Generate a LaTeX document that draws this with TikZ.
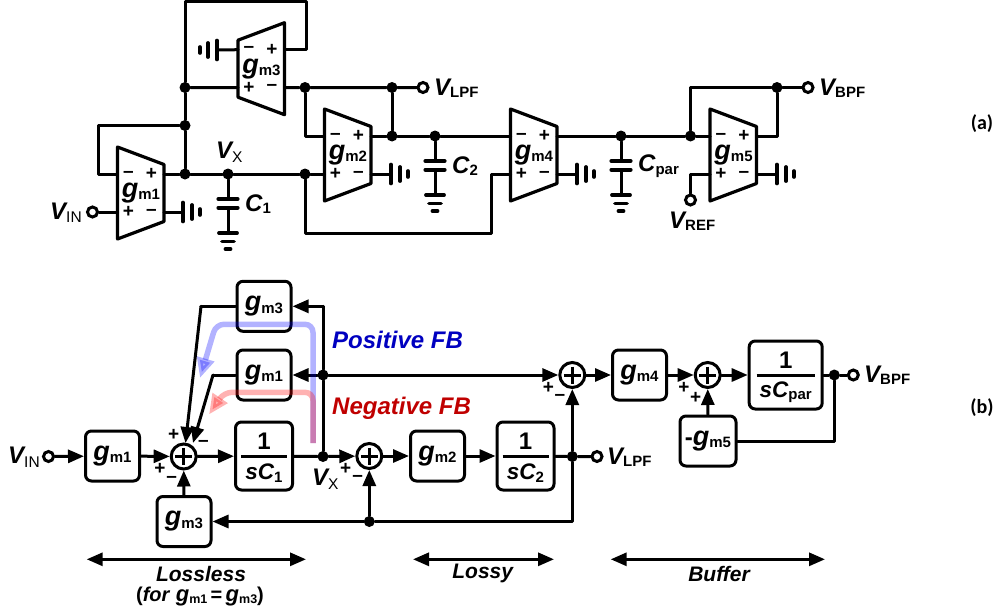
\documentclass[tikz,border=0pt]{standalone}
\usepackage{fontspec}
\setmainfont{Liberation Sans}
\newfontfamily\lblfont{Carlito}
\usetikzlibrary{arrows.meta,calc}
\definecolor{posblue}{RGB}{0,0,192}
\definecolor{negred}{RGB}{192,0,0}
\newcommand{\fs}[1]{\fontsize{#1}{#1}\selectfont}
\newcommand{\SymG}[1]{{\fs{27}\bfseries\itshape g}\raisebox{-2.5pt}{\fs{15}\bfseries #1}}
\newcommand{\SymI}[2]{{\fs{24}\bfseries\itshape #1}\raisebox{-2.5pt}{\fs{15}\bfseries #2}}
\newcommand{\SymC}[2]{{\fs{22.5}\bfseries\itshape #1}\raisebox{-2.5pt}{\fs{15}\bfseries #2}}
\newcommand{\SymR}[2]{{\fs{24}\bfseries\itshape #1}\raisebox{-3.5pt}{\fs{15.5}\mdseries #2}}
\newcommand{\SymS}[2]{{\fs{22}\bfseries\itshape #1}\raisebox{-2pt}{\fs{12.5}\bfseries #2}}
\tikzset{
  x=1pt,y=-1pt,
  wire/.style={line width=3pt,line cap=round,line join=round},
  awire/.style={wire,-{Triangle[length=16pt,width=13pt]}},
  aawire/.style={wire,{Triangle[length=16pt,width=13pt]}-{Triangle[length=16pt,width=13pt]}},
  dot/.style={circle,fill=black,inner sep=0pt,minimum size=11pt},
  term/.style={circle,draw=black,fill=white,line width=3pt,inner sep=0pt,minimum size=10pt},
  blk/.style={draw=black,line width=3pt,rounded corners=6pt,inner sep=0pt,fill=white},
  sumc/.style={circle,draw=black,line width=3pt,fill=white,inner sep=0pt,minimum size=25pt},
  txt/.style={inner sep=0pt,font=\fs{21}\bfseries\itshape},
  plusm/.style={inner sep=0pt,font=\fs{19}\bfseries},
  minusm/.style={inner sep=0pt,font=\fs{19}\bfseries},
  pathfb/.style={line width=5.5pt,line join=round,draw opacity=.3,fill opacity=.3,-{Triangle[length=20pt,width=17pt]}},
}
\newcommand{\amp}[5]{%
  \pgfmathsetmacro{\xl}{#2}\pgfmathsetmacro{\xr}{#2+46.5}\pgfmathsetmacro{\yc}{#3}
  \ifnum#4=1
    \draw[wire,line width=3.2pt,fill=white] (\xl,\yc-46) -- (\xr,\yc-28.5) -- (\xr,\yc+28.5) -- (\xl,\yc+46) -- cycle;
  \else
    \draw[wire,line width=3.2pt,fill=white] (\xr,\yc-46) -- (\xl,\yc-28.5) -- (\xl,\yc+28.5) -- (\xr,\yc+46) -- cycle;
  \fi
  \coordinate (#1tl) at (\xl,\yc-19);
  \coordinate (#1bl) at (\xl,\yc+19);
  \coordinate (#1tr) at (\xr,\yc-19);
  \coordinate (#1br) at (\xr,\yc+19);
  \node[minusm] (#1s1) at (\xl+11,\yc-19) {–};
  \node[plusm] (#1s2) at (\xl+34,\yc-19) {+};
  \node[plusm] (#1s3) at (\xl+11,\yc+19) {+};
  \node[minusm] (#1s4) at (\xl+34,\yc+19) {–};
  \node[inner sep=0pt] (#1lab) at (\xl+23.5,\yc) {\SymG{#5}};
}
\newcommand{\hgnd}[4]{%
  \coordinate (#1) at (#2,#3);
  \draw[line width=3.6pt,line cap=round] (#2,#3-9.5) -- (#2,#3+9.5);
  \draw[line width=3.8pt,line cap=round] (#2+#4*9,#3-7) -- (#2+#4*9,#3+7);
  \draw[line width=3.6pt,line cap=round] (#2+#4*17,#3-3) -- (#2+#4*17,#3+3);
}
\newcommand{\capg}[3]{%
  \draw[line width=4.2pt,line cap=round] (#2-9.5,#3) -- (#2+9.5,#3);
  \draw[line width=4.2pt,line cap=round] (#2-9.5,#3+8.7) -- (#2+9.5,#3+8.7);
  \draw[wire] (#2,#3+8.7) -- (#2,#3+34);
  \draw[line width=3.8pt,line cap=round] (#2-9,#3+34) -- (#2+9,#3+34);
  \draw[line width=3.8pt,line cap=round] (#2-6,#3+42.5) -- (#2+6,#3+42.5);
  \draw[line width=3.8pt,line cap=round] (#2-2.5,#3+50) -- (#2+2.5,#3+50);
  \coordinate (#1) at (#2,#3);
}
\begin{document}
\begin{tikzpicture}
\useasboundingbox (0,0) rectangle (1001,613);
% ---------------- (a) ----------------
\amp{A}{117.5}{193}{1}{m1}
\amp{B}{324.5}{155}{1}{m2}
\amp{C}{238}{68.7}{-1}{m3}
\amp{D}{510.5}{155}{1}{m4}
\amp{E}{710}{155}{1}{m5}
\node[dot] (d1) at (185,87.5) {};
\node[dot] (d2) at (185,125.5) {};
\node[dot] (d3) at (185,174) {};
\node[dot] (d4) at (228,174) {};
\node[dot] (d5) at (305,174) {};
\node[dot] (d6) at (305,87.5) {};
\node[dot] (d7) at (392,87.5) {};
\node[dot] (d8) at (392,136) {};
\node[dot] (d9) at (435,136) {};
\node[dot] (d10) at (621,136) {};
\node[dot] (d11) at (690.5,136) {};
\node[dot] (d12) at (777,87.5) {};
\node[term] (vin) at (92.5,212) {};
\node[term] (vlpf) at (423,87.5) {};
\node[term] (vbpf) at (808,87.5) {};
\node[term] (vref) at (690.5,200) {};
\coordinate (t1) at (185,1.5);
\coordinate (t2) at (306,1.5);
\coordinate (f1) at (98,125.5);
\coordinate (f2) at (98,174);
\coordinate (l1) at (305,233);
\coordinate (l2) at (491,233);
\draw[wire] (d3) -- (d2) -- (d1) -- (t1) -- (t2) -- (t2|-Ctr) -- (Ctr);
\draw[wire] (d1) -- (Cbl);
\draw[wire] (d2) -- (f1) -- (f2) -- (Atl);
\draw[wire] (vin) -- (Abl);
\draw[wire] (Atr) -- (d3) -- (d4) -- (d5) -- (Bbl);
\draw[wire] (Cbr) -- (d6) -- (d7) -- (vlpf);
\draw[wire] (d6) -- (d6|-Btl) -- (Btl);
\draw[wire] (d7) -- (d8);
\draw[wire] (Btr) -- (d8) -- (d9) -- (Dtl);
\draw[wire] (d5) -- (l1) -- (l2) -- (l2|-Dbl) -- (Dbl);
\draw[wire] (Dtr) -- (d10) -- (d11) -- (Etl);
\draw[wire] (d11) -- (d11|-d12) -- (d12) -- (vbpf);
\draw[wire] (d12) -- (d12|-Etr) -- (Etr);
\draw[wire] (Ebl) -- (Ebl-|vref) -- (vref);
% grounds
\hgnd{ga}{183}{212}{1}
\hgnd{gb}{391}{174}{1}
\hgnd{gd}{577}{174}{1}
\hgnd{ge}{777}{174}{1}
\hgnd{gc}{217}{50}{-1}
\draw[wire] (Abr) -- (ga);
\draw[wire] (Bbr) -- (gb);
\draw[wire] (Dbr) -- (gd);
\draw[wire] (Ebr) -- (ge);
\draw[wire] (Ctl) -- (gc);
% capacitors
\capg{c1}{228}{199}
\capg{c2}{435}{161}
\capg{c3}{621}{161}
\draw[wire] (d4) -- (c1);
\draw[wire] (d9) -- (c2);
\draw[wire] (d10) -- (c3);
% labels
\node[inner sep=0pt,anchor=west] (la1) at (50,212.5) {\SymR{V}{IN}};
\node[inner sep=0pt,anchor=west] (la2) at (216,152) {\SymR{V}{X}};
\node[inner sep=0pt,anchor=west] (la3) at (245,204) {\SymI{C}{1}};
\node[inner sep=0pt,anchor=west] (la4) at (452,166) {\SymI{C}{2}};
\node[inner sep=0pt,anchor=west] (la5) at (638,166) {\SymI{C}{par}};
\node[inner sep=0pt,anchor=west] (la6) at (434,88) {\SymI{V}{LPF}};
\node[inner sep=0pt,anchor=west] (la7) at (819,88) {\SymI{V}{BPF}};
\node[inner sep=0pt,anchor=west] (la8) at (669,221) {\SymI{V}{REF}};
\node[inner sep=0pt,font=\lblfont\fs{20}\bfseries] (capa) at (982,124) {(a)};
\node[inner sep=0pt,font=\lblfont\fs{20}\bfseries] (capb) at (982,408) {(b)};
% ---------------- (b) ----------------
\node[blk,minimum width=54pt,minimum height=50pt] (b3t) at (264,306.3) {\SymG{m3}};
\node[blk,minimum width=54pt,minimum height=50pt] (b1m) at (264,375) {\SymG{m1}};
\node[blk,minimum width=54pt,minimum height=50pt] (b1) at (112.5,456) {\SymG{m1}};
\node[blk,minimum width=57pt,minimum height=68pt] (i1) at (264,456) {};
\node[blk,minimum width=54pt,minimum height=50pt] (b3b) at (184,521.5) {\SymG{m3}};
\node[blk,minimum width=54pt,minimum height=50pt] (b2) at (437.5,456) {\SymG{m2}};
\node[blk,minimum width=57pt,minimum height=68pt] (i2) at (525.5,456) {};
\node[blk,minimum width=54pt,minimum height=50pt] (b4) at (639.5,375) {\SymG{m4}};
\node[blk,minimum width=73pt,minimum height=68pt] (i3) at (785.7,375) {};
\node[blk,minimum width=56pt,minimum height=50pt] (b5) at (708,441) {{\fs{24}\bfseries -}\SymG{m5}};
\foreach \n/\w in {i1/23,i2/23,i3/29}{
  \draw[wire,line cap=butt] ($(\n.center)+(-\w,0)$) -- ($(\n.center)+(\w,0)$);
}
\node[inner sep=0pt,font=\fs{24}\bfseries] (i1n) at (264,441) {1};
\node[inner sep=0pt] (i1d) at (264,473) {\SymC{sC}{1}};
\node[inner sep=0pt,font=\fs{24}\bfseries] (i2n) at (525.5,441) {1};
\node[inner sep=0pt] (i2d) at (525.5,473) {\SymC{sC}{2}};
\node[inner sep=0pt,font=\fs{24}\bfseries] (i3n) at (785.7,360) {1};
\node[inner sep=0pt] (i3d) at (785.7,392) {\SymC{sC}{par}};
\node[sumc] (s1) at (183.7,456.5) {};
\node[sumc] (s2) at (369.3,456) {};
\node[sumc] (s3) at (572.3,375) {};
\node[sumc] (s4) at (707.7,375) {};
\foreach \n in {s1,s2,s3,s4}{
  \draw[wire,line cap=butt] ($(\n.center)+(-8.5,0)$) -- ($(\n.center)+(8.5,0)$);
  \draw[wire,line cap=butt] ($(\n.center)+(0,-8.5)$) -- ($(\n.center)+(0,8.5)$);
}
\node[dot] (vx) at (323,456.5) {};
\node[dot] (vy) at (323,375) {};
\node[dot] (lp) at (572.3,456.5) {};
\node[dot] (bt) at (369.3,521.5) {};
\node[dot] (bp) at (834.3,375) {};
\node[term] (tin) at (48.5,456.5) {};
\node[term] (tlp) at (597,456.5) {};
\node[term] (tbp) at (853.3,375) {};
\coordinate (top) at (323,306.3);
\coordinate (lb) at (201,306.3);
\coordinate (lm) at (213,375);
\coordinate (rb) at (572.3,521.5);
\coordinate (rg) at (834.3,441);
\coordinate (tipa) at (185.5,443);
\coordinate (tipb) at (193,443);
\draw[awire] (tin) -- (b1);
\draw[awire] (b1) -- (s1);
\draw[awire] (s1) -- (i1);
\draw[wire] (i1) -- (vx);
\draw[awire] (vx) -- (s2);
\draw[awire] (s2) -- (b2);
\draw[awire] (b2) -- (i2);
\draw[wire] (i2) -- (lp) -- (tlp);
\draw[awire] (lp) -- (s3);
\draw[awire] (s3) -- (b4);
\draw[awire] (b4) -- (s4);
\draw[awire] (s4) -- (i3);
\draw[wire] (i3) -- (bp) -- (tbp);
\draw[wire] (b5) -- (rg) -- (bp);
\draw[awire] (b5) -- (s4);
\draw[wire] (vx) -- (vy) -- (top);
\draw[awire] (top) -- (b3t);
\draw[awire] (vy) -- (b1m);
\draw[awire] (vy) -- (s3);
\draw[wire] (b3t) -- (lb);
\draw[awire] (lb) -- (tipa);
\draw[wire] (b1m) -- (lm);
\draw[awire] (lm) -- (tipb);
\draw[awire] (b3b) -- (s1);
\draw[wire] (lp) -- (rb) -- (bt);
\draw[awire] (bt) -- (b3b);
\draw[awire] (bt) -- (s2);
% signs
\node[plusm] (p1) at (173.7,435) {+};
\node[minusm] (p2) at (203.3,443.3) {–};
\node[plusm] (p3) at (160,469) {+};
\node[minusm] (p4) at (171.7,479) {–};
\node[plusm] (p5) at (345.7,469) {+};
\node[minusm] (p6) at (357.7,478) {–};
\node[plusm] (p7) at (548.3,387.7) {+};
\node[minusm] (p8) at (560,397.7) {–};
\node[plusm] (p9) at (684,387.7) {+};
\node[plusm] (p10) at (695.7,398.3) {+};
% feedback paths
\coordinate (fb0) at (313,443);
\coordinate (fbb1) at (313,324.3);
\coordinate (fbb2) at (216,324.3);
\coordinate (fbb3) at (200,378);
\coordinate (fbr1) at (313,392.3);
\coordinate (fbr2) at (224,392.3);
\coordinate (fbr3) at (209,414.5);
\draw[pathfb,color=blue,rounded corners=8pt] (fb0) -- (fbb1) -- (fbb2) -- (fbb3);
\draw[pathfb,color=red,rounded corners=8pt] (fb0) -- (fbr1) -- (fbr2) -- (fbr3);
\node[inner sep=0pt,anchor=west,font=\fs{24}\bfseries\itshape,text=posblue] (lp1) at (332,340) {Positive FB};
\node[inner sep=0pt,anchor=west,font=\fs{24}\bfseries\itshape,text=negred] (lp2) at (332,408) {Negative FB};
\node[inner sep=0pt,anchor=west] (vx2) at (312,479) {\SymR{V}{X}};
\node[inner sep=0pt,anchor=west] (vi2) at (8,457) {\SymR{V}{IN}};
\node[inner sep=0pt,anchor=west] (vl2) at (607,457) {\SymI{V}{LPF}};
\node[inner sep=0pt,anchor=west] (vb2) at (864,375) {\SymI{V}{BPF}};
% ranges
\coordinate (r1a) at (86.7,559.3);
\coordinate (r1b) at (306,559.3);
\coordinate (r2a) at (413,559.3);
\coordinate (r2b) at (554,559.3);
\coordinate (r3a) at (610.7,559.3);
\coordinate (r3b) at (825,559.3);
\draw[aawire] (r1a) -- (r1b);
\draw[aawire] (r2a) -- (r2b);
\draw[aawire] (r3a) -- (r3b);
\node[txt] (t1l) at (201,574) {Lossless};
\node[inner sep=0pt,font=\fs{20}\bfseries] (t1m) at (200,597) {(\textit{for }\SymS{g}{m1}\,=\,\SymS{g}{m3})};
\node[txt] (t2l) at (482.7,573.5) {Lossy};
\node[txt] (t3l) at (719,573.5) {Buffer};
\end{tikzpicture}
\end{document}
